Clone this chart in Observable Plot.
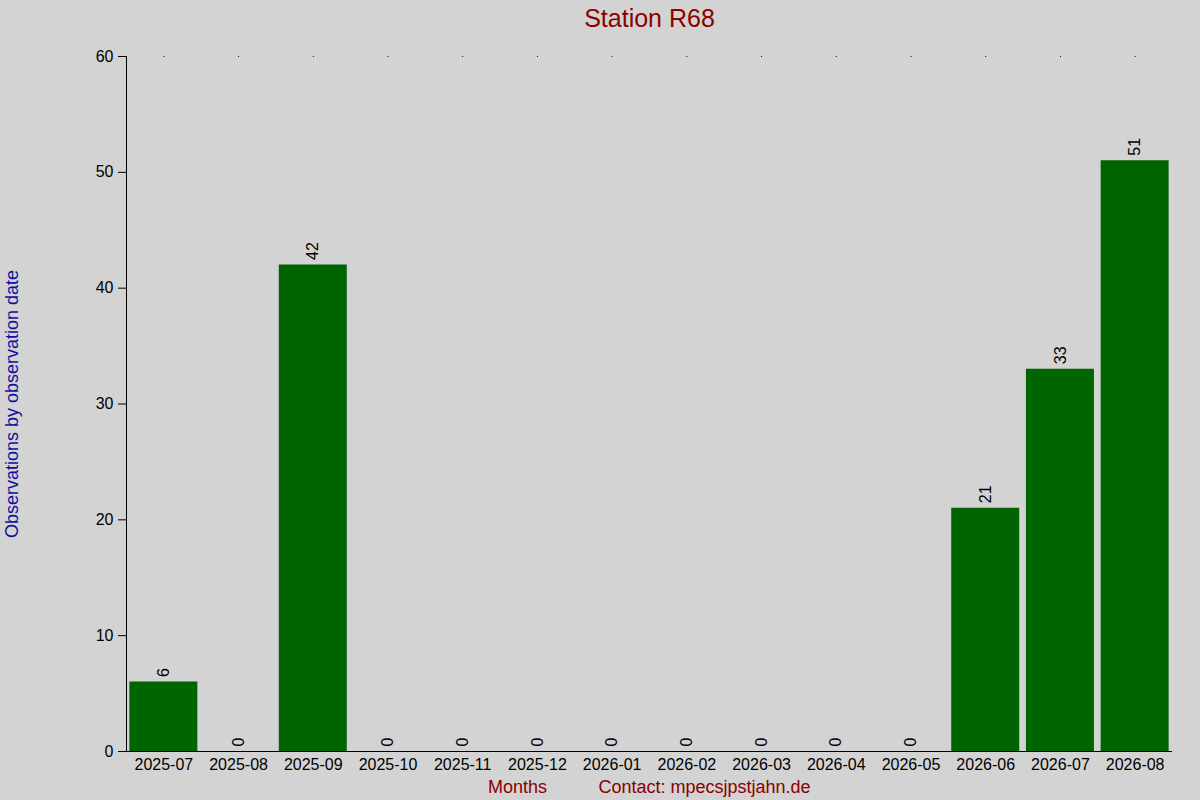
<!DOCTYPE html>
<html><head><meta charset="utf-8">
<script src="https://cdn.jsdelivr.net/npm/d3@7"></script>
<script src="https://cdn.jsdelivr.net/npm/@observablehq/plot@0.6"></script>
<style>html,body{margin:0;padding:0;background:#d3d3d3;}</style>
</head><body><div id="chart"></div>
<script>
const months = ["2025-07","2025-08","2025-09","2025-10","2025-11","2025-12","2026-01","2026-02","2026-03","2026-04","2026-05","2026-06","2026-07","2026-08"];
const counts = [6,0,42,0,0,0,0,0,0,0,0,21,33,51];
const yTicks = [0,10,20,30,40,50,60];
const title = "Station R68";
const yLabel = "Observations by observation date";
const xLabel = "Months";
const contact = "Contact: mpecsjpstjahn.de";

const data = months.map((m,i)=>({month:m, count:counts[i]}));
const font = "Liberation Sans, Arial, sans-serif";

const chart = Plot.plot({
  width:1200, height:800,
  marginLeft:126, marginRight:28, marginTop:56, marginBottom:49,
  style:{background:"#d3d3d3", fontFamily:font, fontSize:"16px", color:"black"},
  x:{type:"band", domain:months, round:false, paddingInner:0.09, paddingOuter:0.045, label:null},
  y:{type:"linear", domain:[0,60], label:null},
  marks:[
    Plot.barY(data,{x:"month", y:"count", fill:"#006400"}),
    Plot.ruleY([0],{stroke:"black"}),
    Plot.frame({anchor:"left", stroke:"black"}),
    Plot.axisY({ticks:yTicks, tickSize:8, tickPadding:5, fontSize:16, label:null}),
    Plot.axisX({tickSize:0, tickPadding:7, fontSize:16, label:null}),
    Plot.dot(months,{x:d=>d, y:()=>60, r:0.6, fill:"black", stroke:null}),
    Plot.text(data,{x:"month", y:"count", text:d=>String(d.count), rotate:-90, textAnchor:"start", dy:-5, fontSize:16, fill:"black"}),
    Plot.text([title],{frameAnchor:"top", dy:-47, fontSize:25, fill:"#8b0000"}),
    Plot.text([yLabel],{frameAnchor:"left", dx:-114, rotate:-90, textAnchor:"middle", fontSize:18, fill:"#1010a0"}),
    Plot.text([xLabel],{frameAnchor:"bottom", dx:-132, dy:41, fontSize:18, fill:"#8b0000"}),
    Plot.text([contact],{frameAnchor:"bottom", dx:55, dy:41, fontSize:18, fill:"#8b0000"})
  ]
});
document.getElementById("chart").appendChild(chart);
</script></body></html>
